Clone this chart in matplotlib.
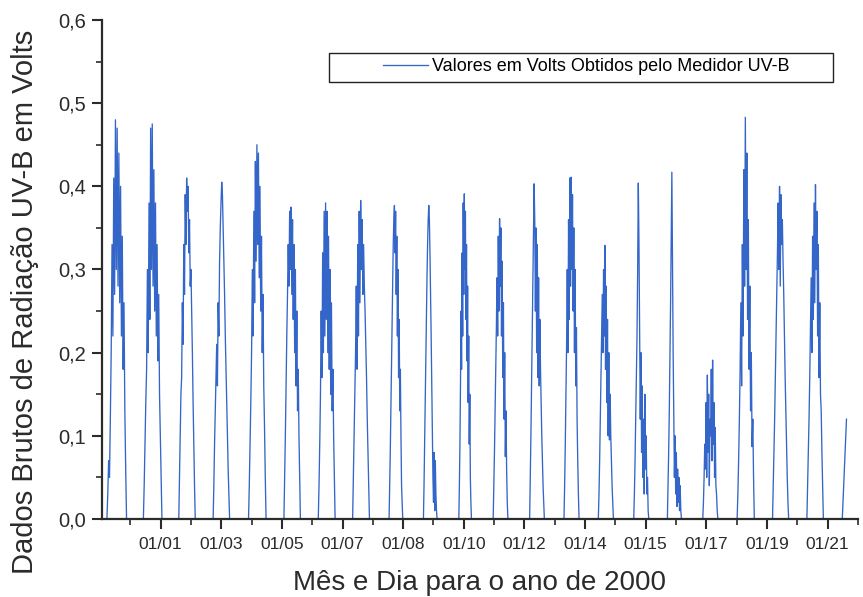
import numpy as np
import matplotlib.pyplot as plt
from matplotlib.patches import Rectangle

plt.rcParams['font.family'] = ['Liberation Sans', 'DejaVu Sans']

# inicio / fim do sinal em cada dia (dias contados a partir do inicio do eixo)
inicio = [0.15, 1.19, 2.20, 3.18, 4.19, 5.20, 6.18, 7.16, 8.20, 9.18, 10.19,
          11.17, 12.21, 13.19, 14.17, 15.18, 16.14, 17.15, 18.13, 19.14, 20.12, 21.13]
fim = [0.71, 1.72, 2.67, 3.65, 4.69, 5.67, 6.66, 7.64, 8.59, 9.57, 10.55,
       11.59, 12.63, 13.62, 14.60, 15.61, 16.56, 17.58, 18.62, 19.60, 20.59, 21.25]

# leituras do medidor UV-B (V), igualmente espacadas entre inicio e fim de cada dia
v01 = [0.00, 0.03, 0.07, 0.05, 0.12, 0.20, 0.33, 0.22, 0.41, 0.27, 0.48, 0.30,
       0.47, 0.28, 0.44, 0.26, 0.40, 0.22, 0.34, 0.18, 0.26, 0.13, 0.06, 0.00]
v02 = [0.00, 0.04, 0.09, 0.14, 0.18, 0.30, 0.20, 0.38, 0.24, 0.47, 0.30, 0.475,
       0.28, 0.42, 0.25, 0.38, 0.22, 0.33, 0.19, 0.27, 0.15, 0.10, 0.05, 0.00]
v03 = [0.00, 0.05, 0.10, 0.15, 0.17, 0.26, 0.21, 0.33, 0.27, 0.39, 0.33, 0.41,
       0.37, 0.40, 0.32, 0.36, 0.28, 0.30, 0.25, 0.20, 0.14, 0.09, 0.04, 0.00]
v04 = [0.00, 0.04, 0.09, 0.13, 0.17, 0.21, 0.16, 0.26, 0.22, 0.31, 0.35, 0.38,
       0.405, 0.39, 0.35, 0.31, 0.27, 0.22, 0.18, 0.14, 0.10, 0.06, 0.03, 0.00]
v05 = [0.00, 0.04, 0.09, 0.14, 0.20, 0.30, 0.22, 0.37, 0.26, 0.43, 0.31, 0.45,
       0.33, 0.44, 0.29, 0.40, 0.25, 0.34, 0.20, 0.27, 0.16, 0.11, 0.05, 0.00]
v06 = [0.00, 0.05, 0.10, 0.16, 0.22, 0.27, 0.33, 0.28, 0.37, 0.30, 0.375, 0.27,
       0.36, 0.24, 0.33, 0.20, 0.30, 0.16, 0.25, 0.13, 0.18, 0.10, 0.05, 0.00]
v07 = [0.00, 0.04, 0.09, 0.15, 0.25, 0.17, 0.32, 0.20, 0.37, 0.22, 0.38, 0.24,
       0.37, 0.20, 0.34, 0.18, 0.30, 0.15, 0.26, 0.13, 0.18, 0.10, 0.05, 0.00]
v08 = [0.00, 0.05, 0.10, 0.15, 0.20, 0.28, 0.18, 0.33, 0.22, 0.37, 0.26, 0.383,
       0.30, 0.36, 0.27, 0.33, 0.28, 0.25, 0.21, 0.17, 0.12, 0.08, 0.04, 0.00]
v09 = [0.00, 0.04, 0.08, 0.13, 0.18, 0.23, 0.28, 0.33, 0.36, 0.377, 0.32, 0.37,
       0.27, 0.34, 0.22, 0.30, 0.17, 0.24, 0.13, 0.18, 0.10, 0.04, 0.02, 0.00]
v10 = [0.00, 0.04, 0.09, 0.14, 0.19, 0.24, 0.29, 0.33, 0.36, 0.377, 0.36, 0.32,
       0.27, 0.22, 0.16, 0.11, 0.05, 0.02, 0.08, 0.01, 0.07, 0.03, 0.01, 0.00]
v11 = [0.00, 0.04, 0.09, 0.16, 0.25, 0.18, 0.32, 0.22, 0.38, 0.27, 0.391, 0.30,
       0.37, 0.24, 0.33, 0.19, 0.28, 0.14, 0.22, 0.09, 0.15, 0.05, 0.02, 0.00]
v12 = [0.00, 0.04, 0.08, 0.13, 0.18, 0.23, 0.29, 0.22, 0.34, 0.25, 0.361, 0.28,
       0.35, 0.22, 0.31, 0.17, 0.26, 0.12, 0.20, 0.075, 0.13, 0.06, 0.02, 0.00]
v13 = [0.00, 0.05, 0.10, 0.16, 0.22, 0.28, 0.34, 0.403, 0.36, 0.25, 0.35, 0.20,
       0.33, 0.17, 0.29, 0.16, 0.24, 0.18, 0.14, 0.10, 0.07, 0.04, 0.02, 0.00]
v14 = [0.00, 0.04, 0.09, 0.15, 0.21, 0.30, 0.20, 0.36, 0.24, 0.41, 0.28, 0.411,
       0.30, 0.39, 0.25, 0.35, 0.20, 0.30, 0.16, 0.23, 0.12, 0.07, 0.03, 0.00]
v15 = [0.00, 0.03, 0.07, 0.12, 0.17, 0.22, 0.27, 0.20, 0.30, 0.22, 0.329, 0.18,
       0.28, 0.14, 0.24, 0.10, 0.20, 0.095, 0.15, 0.10, 0.07, 0.04, 0.02, 0.00]
v16 = [0.00, 0.03, 0.07, 0.12, 0.17, 0.22, 0.30, 0.404, 0.33, 0.22, 0.12, 0.20,
       0.08, 0.16, 0.05, 0.12, 0.03, 0.15, 0.06, 0.10, 0.03, 0.05, 0.01, 0.00]
v17 = [0.00, 0.04, 0.08, 0.13, 0.19, 0.26, 0.34, 0.417, 0.30, 0.20, 0.12, 0.05,
       0.10, 0.03, 0.08, 0.015, 0.06, 0.02, 0.05, 0.01, 0.04, 0.01, 0.00, 0.00]
v18 = [0.00, 0.02, 0.05, 0.09, 0.06, 0.14, 0.05, 0.173, 0.08, 0.15, 0.04, 0.12,
       0.10, 0.18, 0.07, 0.191, 0.09, 0.14, 0.05, 0.11, 0.04, 0.03, 0.01, 0.00]
v19 = [0.00, 0.03, 0.07, 0.12, 0.18, 0.26, 0.16, 0.33, 0.22, 0.42, 0.28, 0.483,
       0.30, 0.44, 0.24, 0.36, 0.18, 0.28, 0.13, 0.20, 0.087, 0.12, 0.05, 0.00]
v20 = [0.00, 0.04, 0.08, 0.12, 0.17, 0.22, 0.27, 0.32, 0.38, 0.30, 0.40, 0.28,
       0.39, 0.33, 0.36, 0.31, 0.27, 0.22, 0.17, 0.13, 0.09, 0.05, 0.02, 0.00]
v21 = [0.00, 0.04, 0.08, 0.12, 0.17, 0.23, 0.29, 0.20, 0.34, 0.24, 0.38, 0.26,
       0.402, 0.30, 0.37, 0.22, 0.33, 0.17, 0.26, 0.15, 0.13, 0.08, 0.04, 0.00]
v22 = [0.00, 0.02, 0.04, 0.06, 0.08, 0.10, 0.12]

leituras = [v01, v02, v03, v04, v05, v06, v07, v08, v09, v10, v11,
            v12, v13, v14, v15, v16, v17, v18, v19, v20, v21, v22]

rotulos_x = ['01/01', '01/03', '01/05', '01/07', '01/08', '01/10',
             '01/12', '01/14', '01/15', '01/17', '01/19', '01/21']
rotulos_y = ['0,0', '0,1', '0,2', '0,3', '0,4', '0,5', '0,6']

# monta a serie temporal
t, v = [], []
for a, b, leit in zip(inicio, fim, leituras):
    t.extend(np.linspace(a, b, len(leit)))
    v.extend(leit)

cor = '#3366c8'
cinza = '#2b2b2b'

fig = plt.figure(figsize=(8.63, 5.97), dpi=100)
ax = fig.add_axes([0.1178, 0.1307, 0.8762, 0.8358])

ax.plot(t, v, color=cor, lw=0.95, label='Valores em Volts Obtidos pelo Medidor UV-B')

ax.set_xlim(0, 21.21)
ax.set_ylim(0, 0.6)

passo = 1.7296
maj = 1.683 + passo * np.arange(len(rotulos_x))
ax.set_xticks(maj)
ax.set_xticklabels(rotulos_x, fontsize=12.5, color=cinza)
ax.set_xticks(np.append(maj - passo / 2, maj[-1] + passo / 2), minor=True)

ax.set_yticks(np.arange(0, 0.61, 0.1))
ax.set_yticklabels(rotulos_y, fontsize=14.5, color=cinza)
ax.set_yticks(np.arange(0.05, 0.6, 0.1), minor=True)

ax.tick_params(axis='x', which='major', direction='out', length=7, width=1.5, color=cinza, pad=6)
ax.tick_params(axis='y', which='major', direction='out', length=7, width=1.5, color=cinza, pad=4)
ax.tick_params(which='minor', direction='out', length=4, width=1.2, color=cinza)

for s in ['top', 'right']:
    ax.spines[s].set_visible(False)
for s in ['left', 'bottom']:
    ax.spines[s].set_linewidth(1.6)
    ax.spines[s].set_color(cinza)

ax.set_xlabel('Mês e Dia para o ano de 2000', fontsize=20, color=cinza, labelpad=13)
ax.set_ylabel('Dados Brutos de Radiação UV-B em Volts', fontsize=21, color=cinza)
ax.yaxis.set_label_coords(-0.083, 0.435)

# legenda com caixa larga
ax.add_patch(Rectangle((0.3005, 0.876), 0.6665, 0.0585, transform=ax.transAxes,
                       facecolor='white', edgecolor='#222222', lw=1.0, zorder=4))
leg = ax.legend(loc='center', bbox_to_anchor=(0.641, 0.906), frameon=False,
                fontsize=13, handlelength=2.5, handletextpad=0.25)
leg.set_zorder(5)

plt.savefig('out.png', dpi=100)
